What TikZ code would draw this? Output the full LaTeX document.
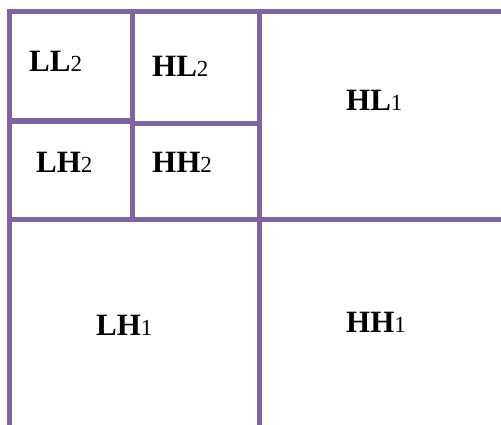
\documentclass[tikz,border=0pt]{standalone}
\usepackage{fontspec}
\setmainfont{Liberation Serif}
\definecolor{gridpurple}{HTML}{8064A2}
\newcommand{\bandlabel}[2]{{\fontsize{31}{31}\selectfont\bfseries #1}{\fontsize{23}{23}\selectfont #2}}
\begin{document}
\begin{tikzpicture}[x=1pt,y=-1pt,
  gridline/.style={draw=gridpurple,line width=5.5pt,line join=miter},
  band/.style={anchor=base west,inner sep=0pt,text=black}]
\useasboundingbox (0,0) rectangle (501,425);
\fill[white] (0,0) rectangle (501,425);
\begin{scope}
\clip (0,0) rectangle (501,425);
\draw[gridline] (505,11.5) -- (9.5,11.5) -- (9.5,430);
\draw[gridline] (132.5,11.5) -- (132.5,219.5);
\draw[gridline] (259.5,11.5) -- (259.5,430);
\draw[gridline] (9.5,121) -- (132.5,121);
\draw[gridline] (132.5,123.5) -- (259.5,123.5);
\draw[gridline] (9.5,219.5) -- (505,219.5);
\end{scope}
\node[band] (ll2) at (29,72) {\bandlabel{LL}{2}};
\node[band] (hl2) at (152,77) {\bandlabel{HL}{2}};
\node[band] (lh2) at (36,173) {\bandlabel{LH}{2}};
\node[band] (hh2) at (152,173) {\bandlabel{HH}{2}};
\node[band] (hl1) at (346,111) {\bandlabel{HL}{1}};
\node[band] (lh1) at (96,335) {\bandlabel{LH}{1}};
\node[band] (hh1) at (346,332) {\bandlabel{HH}{1}};
\end{tikzpicture}
\end{document}
